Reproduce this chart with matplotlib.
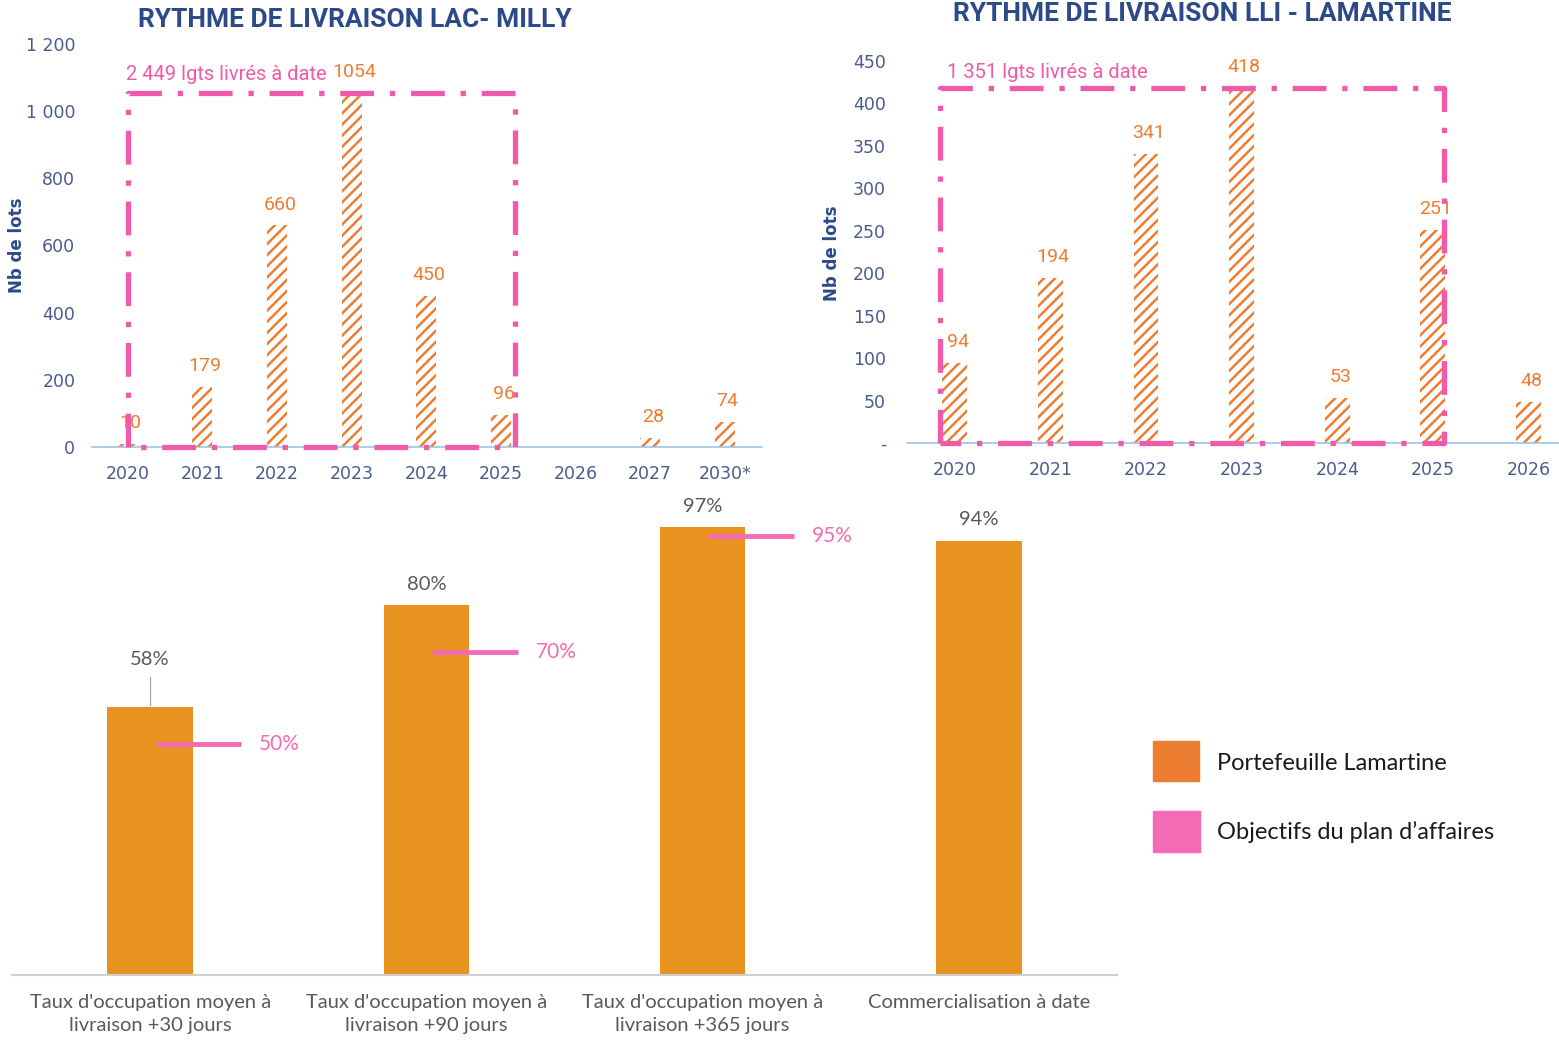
import numpy as np
import matplotlib
matplotlib.use("Agg")
import matplotlib.pyplot as plt
from matplotlib.patches import Rectangle

# --- data ---
milly_years = ["2020", "2021", "2022", "2023", "2024", "2025", "2026", "2027", "2030*"]
milly_vals = [10, 179, 660, 1054, 450, 96, np.nan, 28, 74]
milly_yticks = [0, 200, 400, 600, 800, 1000, 1200]
milly_ylabels = ["0", "200", "400", "600", "800", "1 000", "1 200"]

lam_years = ["2020", "2021", "2022", "2023", "2024", "2025", "2026"]
lam_vals = [94, 194, 341, 418, 53, 251, 48]
lam_yticks = [0, 50, 100, 150, 200, 250, 300, 350, 400, 450]
lam_ylabels = ["-", "50", "100", "150", "200", "250", "300", "350", "400", "450"]

occ_cats = ["Taux d'occupation moyen à\nlivraison +30 jours",
            "Taux d'occupation moyen à\nlivraison +90 jours",
            "Taux d'occupation moyen à\nlivraison +365 jours",
            "Commercialisation à date"]
occ_vals = [58, 80, 97, 94]
occ_targets = [50, 70, 95, np.nan]

NAVY = "#2c4a8a"
TICK = "#4a5b8e"
ORANGE = "#ed7d31"
PINK = "#f05aa8"
BAR = "#e8931f"
GRAY = "#595959"

plt.rcParams['hatch.linewidth'] = 1.8
W, H = 1559, 1041
fig = plt.figure(figsize=(W / 100, H / 100), dpi=100)


def fx(px):
    return px / W


def fy(py):
    return 1 - py / H


def delivery_chart(rect, years, vals, yticks, ylabels, ylim, xlim, box_x, note, note_xy, bw, ypad):
    ax = fig.add_axes(rect)
    x = np.arange(len(years))
    v = np.nan_to_num(np.array(vals, dtype=float))
    ax.bar(x, v, width=bw, color="white", edgecolor=ORANGE, hatch="///", linewidth=0)
    for xi, val in zip(x, vals):
        if np.isnan(val):
            continue
        ax.annotate(str(int(val)), (xi, val), xytext=(2, 15), textcoords="offset points",
                    ha="center", va="center", color=ORANGE, fontsize=14, family="Roboto")
    top = np.nanmax(vals)
    ax.plot([box_x[0], box_x[0], box_x[1], box_x[1], box_x[0]], [0, top, top, 0, 0],
            color=PINK, lw=3.8, linestyle=(0, (6.4, 3, 1, 3)), solid_capstyle="butt",
            dash_capstyle="butt", clip_on=False, zorder=3)
    ax.text(note_xy[0], note_xy[1], note, color=PINK, fontsize=14.5, family="Roboto",
            ha="left", va="center")
    ax.set_xlim(*xlim)
    ax.set_ylim(*ylim)
    ax.set_xticks(x, years)
    ax.set_yticks(yticks, ylabels)
    for s in ["top", "right", "left"]:
        ax.spines[s].set_visible(False)
    ax.spines["bottom"].set_color("#9dc3e6")
    ax.spines["bottom"].set_linewidth(1.2)
    ax.tick_params(length=0, colors=TICK, labelsize=12.5)
    ax.tick_params(axis="x", pad=13)
    ax.tick_params(axis="y", pad=ypad)
    for t in ax.get_xticklabels() + ax.get_yticklabels():
        t.set_family("DejaVu Sans")
    ax.patch.set_alpha(0)
    return ax


delivery_chart([fx(92), fy(447), fx(762 - 92), (447 - 44) / H], milly_years, milly_vals,
               milly_yticks, milly_ylabels, (0, 1200), (-0.48, 8.5), (0.0, 5.19),
               "2 449 lgts livrés à date", (-0.02, 1110), 0.27, 12)
delivery_chart([fx(907), fy(443), fx(1559 - 907), (443 - 61) / H], lam_years, lam_vals,
               lam_yticks, lam_ylabels, (0, 450), (-0.5, 6.32), (-0.15, 5.12),
               "1 351 lgts livrés à date", (-0.08, 436), 0.26, 15)

fig.text(fx(355), fy(20), "RYTHME DE LIVRAISON LAC- MILLY", color=NAVY, fontsize=19,
         fontweight="bold", family="Roboto", ha="center", va="center")
fig.text(fx(1202), fy(14), "RYTHME DE LIVRAISON LLI - LAMARTINE", color=NAVY, fontsize=19,
         fontweight="bold", family="Roboto", ha="center", va="center")
fig.text(fx(17), fy(245), "Nb de lots", color=NAVY, fontsize=12, fontweight="bold",
         rotation=90, ha="center", va="center")
fig.text(fx(832), fy(253), "Nb de lots", color=NAVY, fontsize=12, fontweight="bold",
         rotation=90, ha="center", va="center")

# --- occupancy chart ---
ax3 = fig.add_axes([fx(12), fy(975), fx(1117 - 12), 462 / H])
xc = np.arange(len(occ_cats))
ax3.bar(xc, occ_vals, width=0.31, color=BAR)
for xi, val in zip(xc, occ_vals):
    off = 15 if val != 58 else 34
    ax3.annotate(f"{val}%", (xi, val), xytext=(0, off), textcoords="offset points",
                 ha="center", va="center", color=GRAY, fontsize=14.5, family="Lato")
ax3.plot([0, 0], [58 + 0.5, 58 + 6.4], color="#a6a6a6", lw=0.9)
for xi, t in zip(xc, occ_targets):
    if np.isnan(t):
        continue
    ax3.plot([xi + 0.02, xi + 0.33], [t, t], color="#f36bb5", lw=3.5, solid_capstyle="butt")
    ax3.text(xi + 0.395, t, f"{t}%", color="#f36bb5", fontsize=15, family="Lato",
             ha="left", va="center")
ax3.set_xlim(-0.5, 3.5)
ax3.set_ylim(0, 100)
ax3.set_xticks(xc, occ_cats)
ax3.set_yticks([])
for s in ["top", "right", "left"]:
    ax3.spines[s].set_visible(False)
ax3.spines["bottom"].set_color("#d0d0d0")
ax3.spines["bottom"].set_linewidth(1.5)
ax3.tick_params(length=0, colors=GRAY, labelsize=14.5, pad=14)
for t in ax3.get_xticklabels():
    t.set_family("Lato")
    t.set_linespacing(1.4)
ax3.patch.set_alpha(0)

# legend
fig.patches.append(Rectangle((fx(1153), fy(781)), fx(46), 40 / H, color=ORANGE,
                             transform=fig.transFigure))
fig.patches.append(Rectangle((fx(1153), fy(852)), fx(47), 41 / H, color="#f36bb5",
                             transform=fig.transFigure))
fig.text(fx(1217), fy(764), "Portefeuille Lamartine", fontsize=17, family="Lato",
         color="#1a1a1a", va="center", ha="left")
fig.text(fx(1217), fy(832), "Objectifs du plan d\u2019affaires", fontsize=17, family="Lato",
         color="#1a1a1a", va="center", ha="left")

fig.savefig("out.png", dpi=100)
